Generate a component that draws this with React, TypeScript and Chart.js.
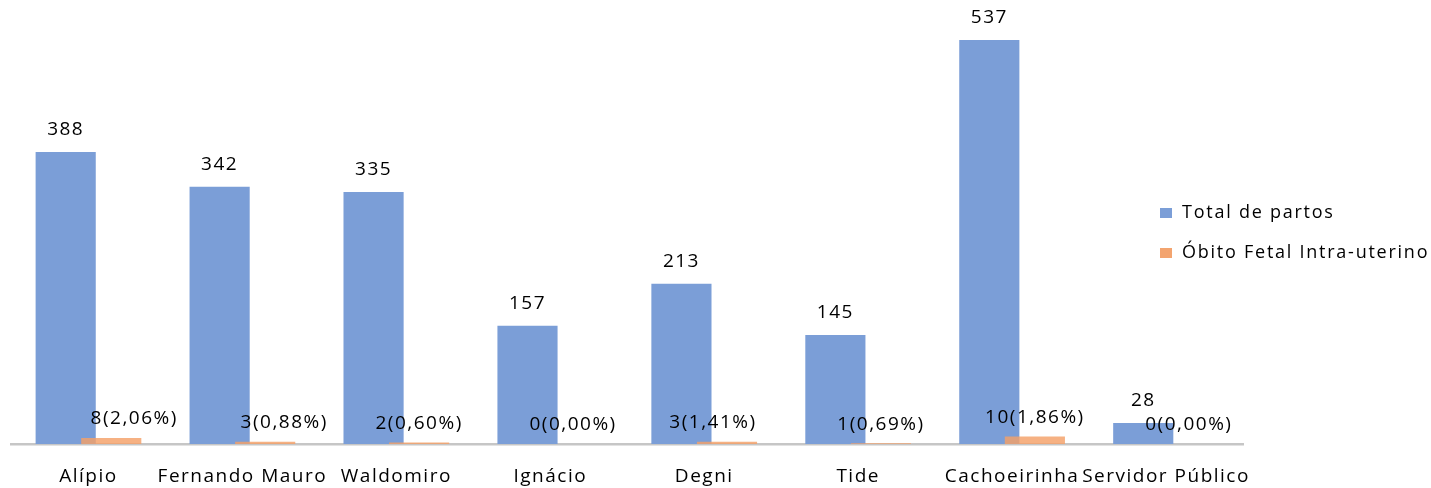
import React, { useEffect, useRef } from 'react';
import { Chart, registerables } from 'chart.js';

Chart.register(...registerables);

const categories = ['Alípio', 'Fernando Mauro', 'Waldomiro', 'Ignácio', 'Degni', 'Tide', 'Cachoeirinha', 'Servidor Público'];
const totalPartos = [388, 342, 335, 157, 213, 145, 537, 28];
const obitoFetal = [8, 3, 2, 0, 3, 1, 10, 0];
const obitoPercent = ['2,06%', '0,88%', '0,60%', '0,00%', '1,41%', '0,69%', '1,86%', '0,00%'];
const seriesNames = ['Total de partos', 'Óbito Fetal Intra-uterino'];

const BLUE = '#7B9ED7';
const ORANGE = 'rgba(244,160,104,0.82)';
const ORANGE_LEGEND = '#F3A46F';
const FONT = '"Open Sans", "DejaVu Sans", sans-serif';
// small label nudges (style only), as placed in the original
const orangeLabelDx = [23, 19, 0, 0, -14, 0, 0, 0];

const customPlugin = {
  id: 'customDraw',
  beforeDraw(chart: any) {
    chart.ctx.letterSpacing = '1.5px';
  },
  beforeDatasetDraw(chart: any, args: any) {
    if (args.index === 1) return false;
    return true;
  },
  afterDatasetsDraw(chart: any) {
    const ctx = chart.ctx;
    const meta0 = chart.getDatasetMeta(0);
    const meta1 = chart.getDatasetMeta(1);
    // draw orange bars on top of the blue ones
    meta1.controller.draw();

    ctx.save();
    ctx.font = `19px ${FONT}`;
    ctx.letterSpacing = '1.5px';
    ctx.fillStyle = '#000';
    ctx.textAlign = 'center';
    ctx.textBaseline = 'middle';
    meta0.data.forEach((bar: any, i: number) => {
      ctx.fillText(String(totalPartos[i]), bar.x, bar.y - 22);
    });
    meta1.data.forEach((bar: any, i: number) => {
      ctx.fillText(`${obitoFetal[i]}(${obitoPercent[i]})`, bar.x + orangeLabelDx[i], bar.y - 19);
    });

    // legend
    const colors = [BLUE, ORANGE_LEGEND];
    const rows = [213, 253];
    ctx.textAlign = 'left';
    ctx.font = `18px ${FONT}`;
    ctx.letterSpacing = '1.75px';
    seriesNames.forEach((name, i) => {
      ctx.fillStyle = colors[i];
      ctx.fillRect(1160, rows[i] - 5, 12, 10);
      ctx.fillStyle = '#000';
      ctx.fillText(name, 1182, rows[i]);
    });
    ctx.restore();
  },
};

export default function App() {
  const canvasRef = useRef<HTMLCanvasElement | null>(null);

  useEffect(() => {
    if (!canvasRef.current) return;
    const chart = new Chart(canvasRef.current, {
      type: 'bar',
      data: {
        labels: categories,
        datasets: [
          {
            label: seriesNames[0],
            data: totalPartos,
            backgroundColor: BLUE,
            borderWidth: 0,
            categoryPercentage: 0.592,
            barPercentage: 1.32,
          },
          {
            label: seriesNames[1],
            data: obitoFetal,
            backgroundColor: ORANGE,
            borderWidth: 0,
            categoryPercentage: 0.592,
            barPercentage: 1.32,
          },
        ],
      },
      options: {
        responsive: false,
        animation: false,
        devicePixelRatio: 1,
        layout: { padding: { left: 11.5, right: 188, top: 0, bottom: 0 } },
        plugins: {
          legend: { display: false },
          tooltip: { enabled: false },
          title: { display: false },
        },
        scales: {
          x: {
            grid: { display: false, drawTicks: false },
            border: { display: true, color: '#C6C6C6', width: 2.5 },
            ticks: {
              color: '#000',
              font: { family: FONT, size: 19 },
              padding: 21,
              maxRotation: 0,
              autoSkip: false,
            },
            afterFit: (scale: any) => {
              scale.height = 44;
            },
          },
          y: {
            display: false,
            min: 0,
            max: 590,
          },
        },
      },
      plugins: [customPlugin],
    });
    return () => chart.destroy();
  }, []);

  return (
    <div style={{ position: 'fixed', left: 0, top: 0, width: 1431, height: 488, background: '#fff' }}>
      <canvas ref={canvasRef} width={1431} height={488} />
    </div>
  );
}
